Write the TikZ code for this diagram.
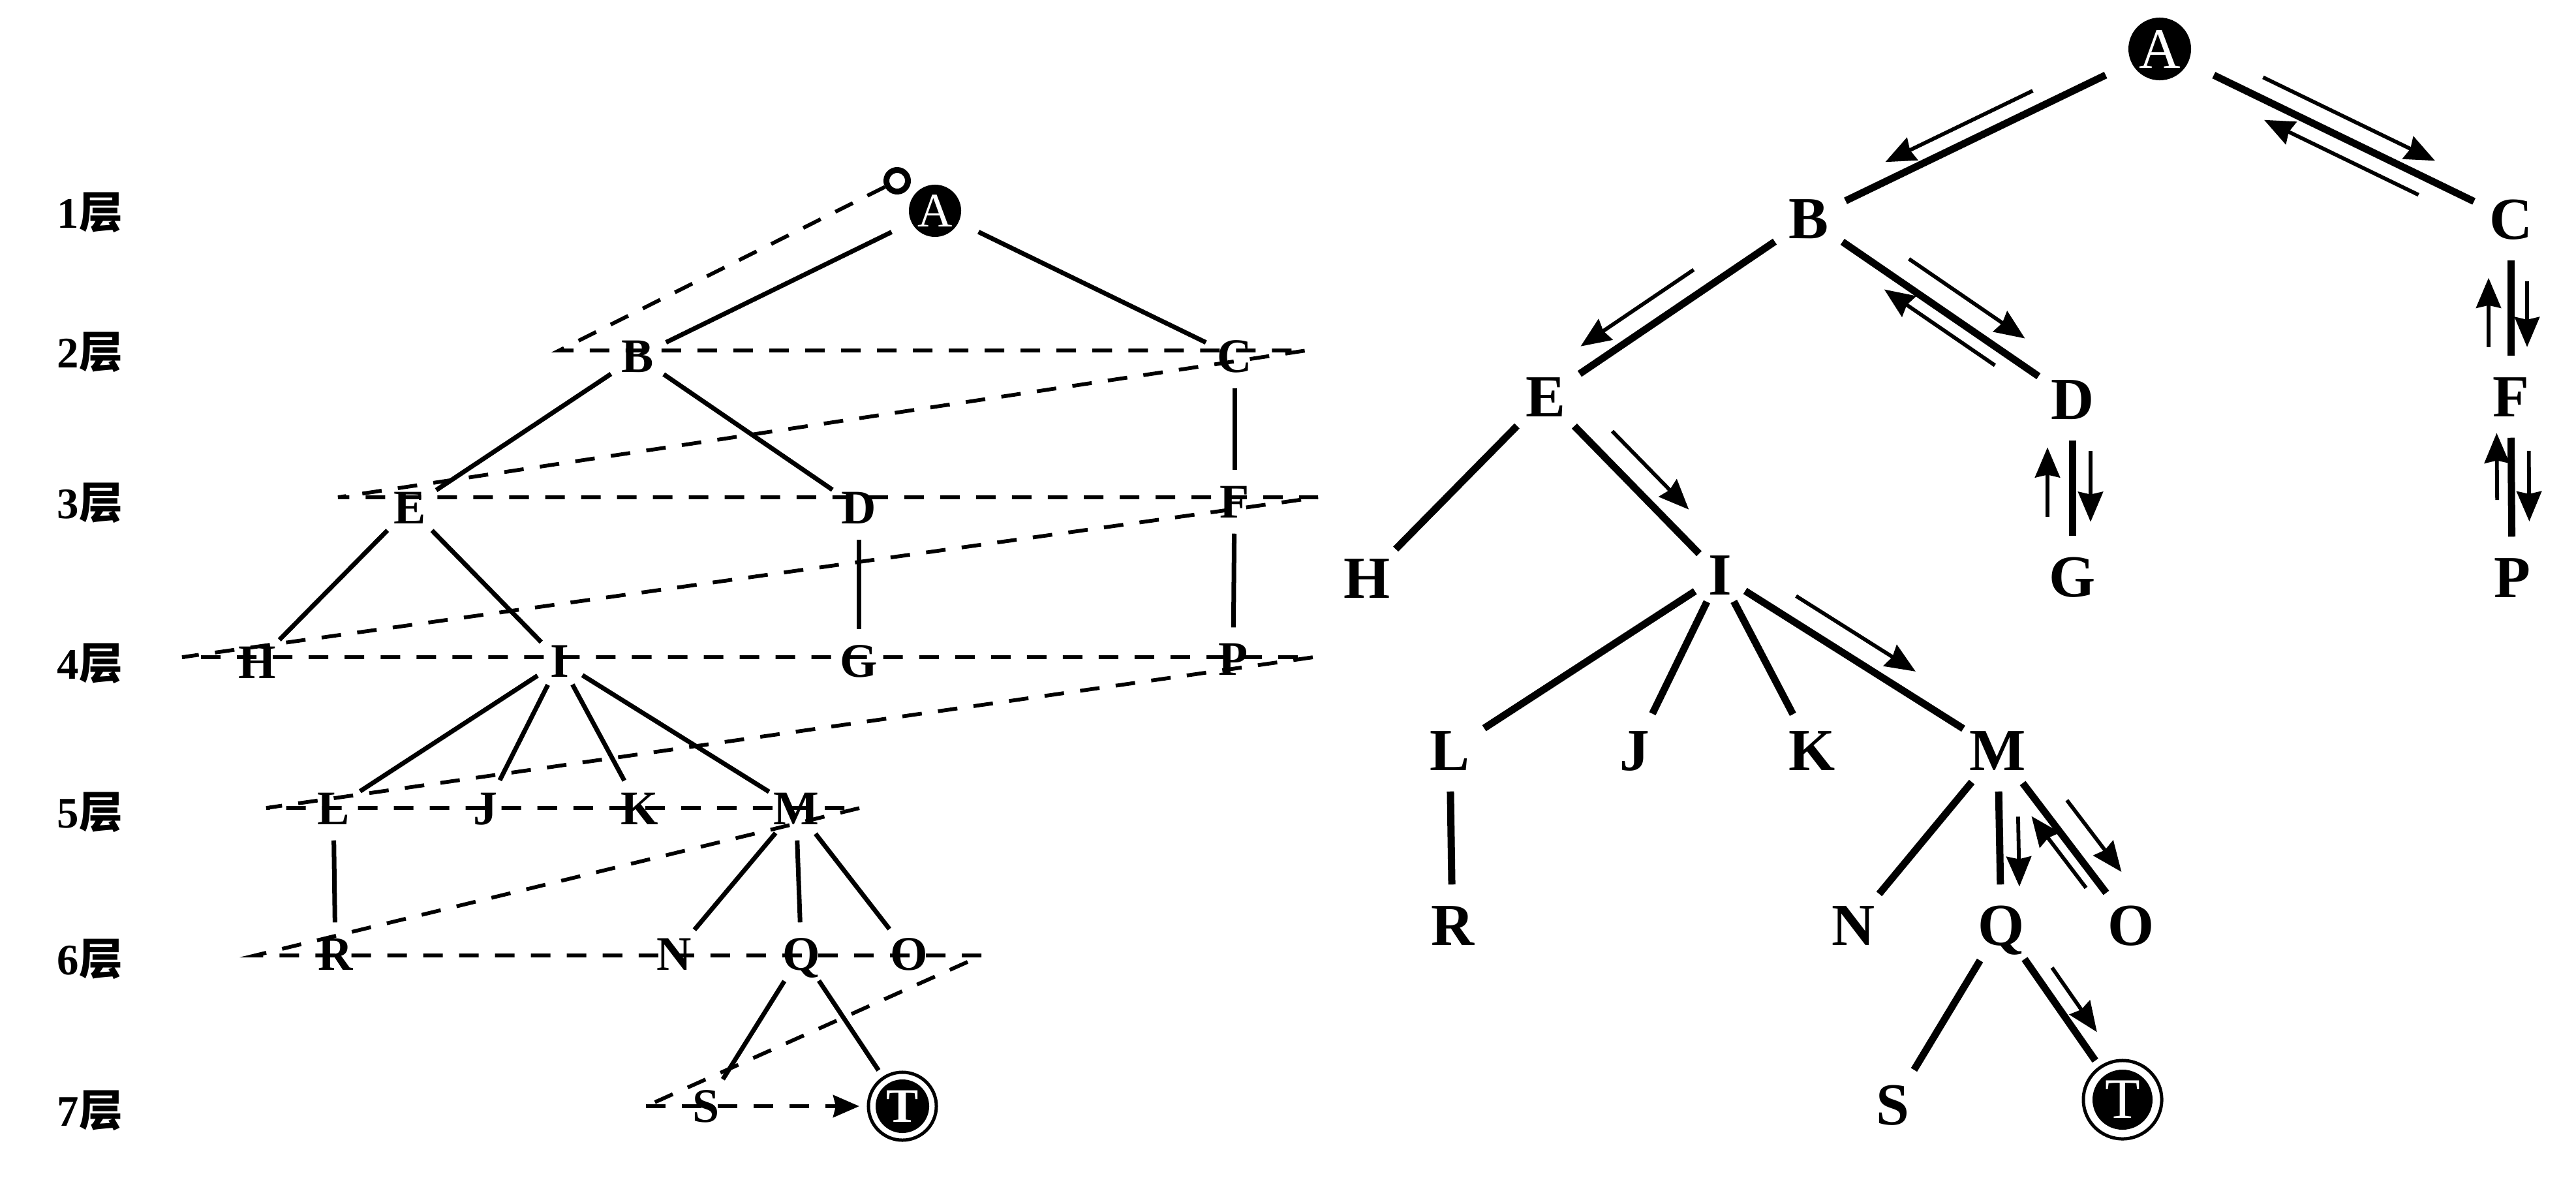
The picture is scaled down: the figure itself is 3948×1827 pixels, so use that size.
\documentclass[tikz,border=0pt]{standalone}
\usepackage{fontspec}
\setmainfont{Liberation Serif}
\newfontfamily\cjkfont{Noto Sans CJK SC}
\usetikzlibrary{calc,arrows.meta}

\newcommand{\rfont}{\fontsize{26}{30}\selectfont\bfseries}
\newcommand{\lfont}{\fontsize{21}{25}\selectfont\bfseries}
\newcommand{\layerfont}{\fontsize{19}{22}\selectfont\bfseries}
% thin arrow running beside the edge #1--#2, from fraction #3 to #4, at distance #5 on side #6
\newcommand{\sidearrow}[6]{\draw[walk] ($(#1)!#3!(#2)!#5!#6:(#2)$) -- ($(#1)!#4!(#2)!#5!#6:(#2)$);}

\tikzset{
  lnode/.style={circle,inner sep=0pt,minimum size=0.96cm,font=\lfont,text height=14pt,text depth=0pt},
  rnode/.style={circle,inner sep=0pt,minimum size=1.24cm,font=\rfont,text height=17.2pt,text depth=0pt},
  ledge/.style={line width=0.07cm},
  redge/.style={line width=0.11cm},
  walk/.style={line width=0.058cm,-{Stealth[length=0.46cm,width=0.38cm,inset=0.04cm]}},
  bfs/.style={line width=0.058cm,dash pattern=on 0.3cm off 0.25cm},
  blackdot/.style={circle,fill=black,text=white,inner sep=0pt},
  layer/.style={font=\layerfont}
}

\begin{document}
\begin{tikzpicture}[x=0.01cm,y=-0.01cm]
\fill[white] (0,0) rectangle (3948,1827);
\useasboundingbox (0,0) rectangle (3948,1827);

% ---------- layer labels ----------
\foreach \n/\yy in {1/326,2/540,3/771,4/1017,5/1245,6/1470,7/1702}
  \node[layer] (layer\n) at (138,\yy) {\n{\cjkfont 层}};

% ---------- left tree (level order) ----------
\node[blackdot,minimum size=0.8cm,outer sep=0.34cm,font=\fontsize{21}{25}\selectfont] (lA) at (1433,323) {A};
\node[circle,draw,line width=0.09cm,minimum size=0.33cm,inner sep=0pt] (lstart) at (1375,277) {};
\node[lnode] (lB) at (977,546) {B};
\node[lnode] (lC) at (1892,546) {C};
\node[lnode] (lE) at (628,778) {E};
\node[lnode] (lD) at (1316,778) {D};
\node[lnode] (lF) at (1892,769) {F};
\node[lnode] (lH) at (394,1015) {H};
\node[lnode,minimum size=0.8cm] (lI) at (858,1013) {I};
\node[lnode] (lG) at (1316,1013) {G};
\node[lnode] (lP) at (1890,1010) {P};
\node[lnode] (lL) at (511,1239) {L};
\node[lnode] (lJ) at (744,1239) {J};
\node[lnode] (lK) at (980,1239) {K};
\node[lnode] (lM) at (1220,1239) {M};
\node[lnode] (lR) at (514,1462) {R};
\node[lnode] (lN) at (1033,1462) {N};
\node[lnode] (lQ) at (1228,1462) {Q};
\node[lnode] (lO) at (1393,1462) {O};
\node[lnode] (lS) at (1082,1695) {S};
\node[blackdot,minimum size=0.82cm,outer sep=0.25cm,font=\lfont] (lT) at (1383,1695) {T};
\draw[line width=0.05cm] (lT.center) circle[radius=0.52cm];

\foreach \a/\b in {lA/lB,lA/lC,lB/lE,lB/lD,lC/lF,lE/lH,lE/lI,lD/lG,lF/lP,
                   lI/lL,lI/lJ,lI/lK,lI/lM,lL/lR,lM/lN,lM/lQ,lM/lO,lQ/lS,lQ/lT}
  \draw[ledge] (\a) -- (\b);

% breadth-first sweep, level by level
\coordinate (w1) at (857,537);
\coordinate (w2) at (2002,537);
\coordinate (w3) at (518,762);
\coordinate (w4) at (2020,762);
\coordinate (w5) at (279,1007);
\coordinate (w6) at (2013,1007);
\coordinate (w7) at (408,1238);
\coordinate (w8) at (1318,1238);
\coordinate (w9) at (391,1464);
\coordinate (w10) at (1505,1464);
\coordinate (w11) at (990,1695);
\draw[bfs] (lstart) -- (w1) -- (w2) -- (w3) -- (w4) -- (w5) -- (w6) -- (w7) -- (w8) -- (w9) -- (w10) -- (w11);
\draw[bfs,-{Stealth[length=0.4cm,width=0.34cm,inset=0.04cm]}] (w11) -- (lT);

% ---------- right tree (depth-first search) ----------
\node[blackdot,minimum size=0.96cm,outer sep=0.44cm,font=\fontsize{25}{30}\selectfont] (rA) at (3310,75) {A};
\node[rnode] (rB) at (2772,335) {B};
\node[rnode] (rC) at (3848,336) {C};
\node[rnode] (rE) at (2369,608) {E};
\node[rnode] (rD) at (3176,612) {D};
\node[rnode] (rF) at (3848,608) {F};
\node[rnode] (rH) at (2095,886) {H};
\node[rnode,minimum size=0.9cm] (rI) at (2636,881) {I};
\node[rnode] (rG) at (3176,884) {G};
\node[rnode] (rP) at (3850,885) {P};
\node[rnode] (rL) at (2222,1150) {L};
\node[rnode] (rJ) at (2505,1150) {J};
\node[rnode] (rK) at (2777,1150) {K};
\node[rnode] (rM) at (3062,1150) {M};
\node[rnode] (rR) at (2226,1418) {R};
\node[rnode] (rN) at (2840,1418) {N};
\node[rnode] (rQ) at (3067,1418) {Q};
\node[rnode] (rO) at (3266,1418) {O};
\node[rnode] (rS) at (2901,1693) {S};
\node[blackdot,minimum size=0.92cm,outer sep=0.27cm,font=\fontsize{25}{30}\selectfont] (rT) at (3253,1685) {T};
\draw[line width=0.05cm] (rT.center) circle[radius=0.6cm];

\foreach \a/\b in {rA/rB,rA/rC,rB/rE,rB/rD,rC/rF,rE/rH,rE/rI,rD/rG,rF/rP,
                   rI/rL,rI/rJ,rI/rK,rI/rM,rL/rR,rM/rN,rM/rQ,rM/rO,rQ/rS,rQ/rT}
  \draw[redge] (\a) -- (\b);

% forward moves
\sidearrow{rA}{rB}{0.34}{0.76}{0.27cm}{-90}
\sidearrow{rA}{rC}{0.27}{0.76}{0.30cm}{90}
\sidearrow{rB}{rE}{0.39}{0.82}{0.34cm}{-90}
\sidearrow{rB}{rD}{0.33}{0.77}{0.36cm}{90}
\sidearrow{rD}{rG}{0.29}{0.69}{0.28cm}{90}
\sidearrow{rE}{rI}{0.285}{0.725}{0.36cm}{90}
\sidearrow{rI}{rM}{0.23}{0.66}{0.35cm}{90}
\sidearrow{rM}{rQ}{0.38}{0.78}{0.29cm}{90}
\sidearrow{rM}{rO}{0.37}{0.78}{0.38cm}{90}
\sidearrow{rQ}{rT}{0.30}{0.67}{0.27cm}{90}
\sidearrow{rC}{rF}{0.35}{0.72}{0.25cm}{90}
\sidearrow{rF}{rP}{0.30}{0.69}{0.27cm}{90}
% moves back up
\sidearrow{rA}{rC}{0.76}{0.32}{0.28cm}{-90}
\sidearrow{rB}{rD}{0.74}{0.32}{0.24cm}{-90}
\sidearrow{rD}{rG}{0.66}{0.27}{0.38cm}{-90}
\sidearrow{rM}{rO}{0.74}{0.33}{0.20cm}{-90}
\sidearrow{rC}{rF}{0.72}{0.33}{0.34cm}{-90}
\sidearrow{rF}{rP}{0.57}{0.20}{0.22cm}{-90}
\end{tikzpicture}
\end{document}
